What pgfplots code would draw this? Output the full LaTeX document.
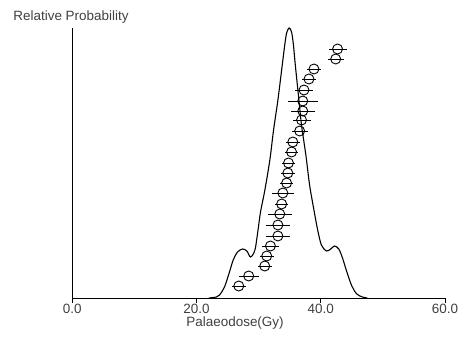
\documentclass[border=0pt]{standalone}
\usepackage{pgfplots}
\pgfplotsset{compat=1.18}
\usepackage{pgfplotstable}
\usepackage{fontspec}
\setmainfont{Liberation Sans}
\definecolor{txt}{gray}{0.25}

\pgfplotstableread{
x y
22.0 0
23.2 1
23.7 3
24.5 11
25.3 26
25.9 38
26.6 46
27.4 49
28.1 47
28.7 41
29.4 48
29.9 68
30.3 86
31.0 108
31.8 138
32.4 168
33.1 198
33.7 228
34.2 253
34.5 265
34.9 270
35.3 266
35.6 253
35.9 233
36.4 203
36.9 173
37.6 143
38.2 113
38.9 88
39.5 68
40.1 53
40.9 47
41.6 49
42.2 52
42.9 49
43.5 40
44.2 26
45.0 12
45.8 4
46.7 1
47.5 0
}\curve

\pgfplotstableread{
x y e
42.7 249 1.45
42.4 239 1.3
38.9 229 1.1
38.1 219 1.1
37.3 208 1.45
37.1 197 2.4
37.1 187 1.9
36.9 178 1.45
36.6 167 1.3
35.5 156 1.1
35.3 146 1.1
34.8 135 1.1
34.7 125 1.1
34.5 115 1.1
33.9 105 1.8
33.7 94 1.1
33.4 84 1.9
33.1 73 1.9
33.1 62 1.9
31.9 52 1.3
31.3 42 1.1
30.98 32 1.1
28.4 22 1.6
26.8 12 1.1
}\pts

\begin{document}
\begin{tikzpicture}[x=1bp,y=1bp]
\draw[use as bounding box, draw=none] (0,0) rectangle (459,336);
\begin{axis}[
  at={(72.3bp,38bp)}, anchor=origin,
  scale only axis, width=372.7bp, height=270bp,
  xmin=0, xmax=60, ymin=0, ymax=270,
  axis x line=bottom, axis y line=left,
  axis line style={-, line width=0.9bp, black},
  xtick={0,20,40,60}, xticklabels={0.0,20.0,40.0,60.0},
  ytick=\empty,
  tick align=outside, major tick length=5bp,
  tick style={line width=0.8bp, black},
  xticklabel style={font=\fontsize{13.5}{15}\selectfont, text=txt, inner sep=1bp, yshift=0bp},
  clip=false,
]
\addplot[black, line width=1.1bp, smooth, tension=0.5] table[x=x,y=y] {\curve};
\addplot[only marks, mark=o, mark size=5bp, mark options={line width=0.9bp, black},
  error bars/.cd, x dir=both, x explicit, error mark=none,
  error bar style={line width=0.9bp, black}]
  table[x=x, y=y, x error=e] {\pts};
\node[font=\fontsize{13.5}{15}\selectfont, text=txt, inner sep=1bp] at (axis cs:26.2,0) [yshift=-25.5bp] {Palaeodose(Gy)};
\end{axis}
\node[font=\fontsize{13.5}{15}\selectfont, text=txt] at (71bp,319bp) {Relative Probability};
\end{tikzpicture}
\end{document}
